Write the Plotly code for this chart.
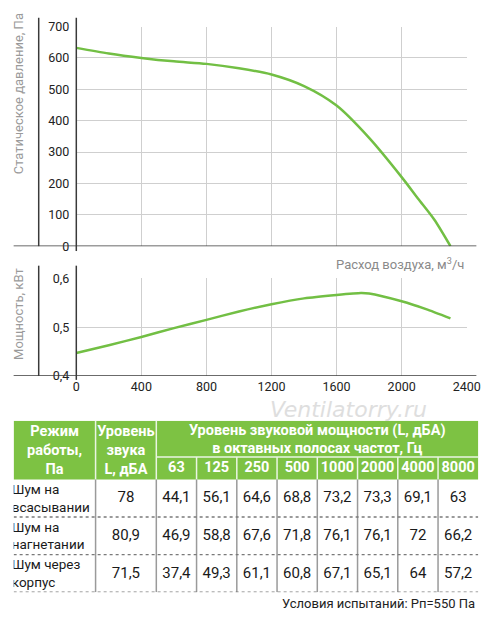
import numpy as np
import plotly.graph_objects as go

# ---------------- data ----------------
flow_p = [0, 200, 400, 600, 800, 1000, 1200, 1400, 1600, 1800, 2000, 2100, 2200, 2300]
pressure = [632, 614, 600, 589, 581, 567, 547, 510, 448, 345, 220, 152, 85, 0]

flow_n = [0, 200, 400, 600, 800, 1000, 1200, 1400, 1600, 1750, 1800, 2000, 2150, 2300]
power = [0.447, 0.463, 0.480, 0.498, 0.515, 0.532, 0.547, 0.559, 0.566, 0.570, 0.569, 0.553, 0.537, 0.518]

x_ticks = [0, 400, 800, 1200, 1600, 2000, 2400]
p_ticks = [0, 100, 200, 300, 400, 500, 600, 700]
n_ticks = [0.4, 0.5, 0.6]
n_tick_labels = ["0,4", "0,5", "0,6"]

modes = ["Шум на<br>всасывании", "Шум на<br>нагнетании", "Шум через<br>корпус"]
sound_level = [78, 80.9, 71.5]
freqs = [63, 125, 250, 500, 1000, 2000, 4000, 8000]
intake = [44.1, 56.1, 64.6, 68.8, 73.2, 73.3, 69.1, 63]
discharge = [46.9, 58.8, 67.6, 71.8, 76.1, 76.1, 72, 66.2]
casing = [37.4, 49.3, 61.1, 60.8, 67.1, 65.1, 64, 57.2]
octave_rows = [intake, discharge, casing]

hdr_mode = "Режим<br>работы,<br>Па"
hdr_level = "Уровень<br>звука<br>L, дБА"
hdr_octave = "Уровень звуковой мощности (L, дБА)<br>в октавных полосах частот, Гц"
footer = "Условия испытаний: Рп=550 Па"

# ---------------- style ----------------
W, H = 500, 626
GREEN_LINE = "#72bf44"
GREEN_HDR = "#7dc243"
GRID = "#cfcfcf"
AX = "#3a3a3a"
TICK_FONT = dict(family="Roboto, sans-serif", size=12.5, color="#222")
TXT_FONT = "Roboto, Noto Sans, sans-serif"

def px(xp):
    return xp / W

def py(yp):
    return 1 - yp / H

def fmt(v):
    return f"{v:g}".replace(".", ",")

fig = go.Figure()

fig.add_trace(go.Scatter(x=flow_p, y=pressure, mode="lines", line=dict(color=GREEN_LINE, width=2.5, shape="spline", smoothing=0.8),
                         xaxis="x", yaxis="y", hoverinfo="skip", showlegend=False))
fig.add_trace(go.Scatter(x=flow_n, y=power, mode="lines", line=dict(color=GREEN_LINE, width=2.5, shape="spline", smoothing=0.6),
                         xaxis="x2", yaxis="y2", hoverinfo="skip", showlegend=False))

# ---------------- table (own axis, column/row units) ----------------
col_w = [85, 63] + [41.75] * len(freqs)
edges = np.concatenate([[0], np.cumsum(col_w)])
centers = (edges[:-1] + edges[1:]) / 2
hdr_top_h, hdr_bot_h = 37, 23
hdr_h = hdr_top_h + hdr_bot_h
row_h = 38.5
row_edges = [hdr_h + i * row_h for i in range(len(modes) + 1)]
row_centers = [(row_edges[i] + row_edges[i + 1]) / 2 for i in range(len(modes))]
total_w = edges[-1]
total_h = row_edges[-1]

shapes = []
shapes.append(dict(type="rect", xref="x3", yref="y3", x0=0, x1=total_w, y0=0, y1=hdr_h,
                   fillcolor=GREEN_HDR, line=dict(width=0), layer="below"))
for e in edges[1:3]:
    shapes.append(dict(type="line", xref="x3", yref="y3", x0=e, x1=e, y0=0, y1=hdr_h, line=dict(color="#eaf5e2", width=1.5)))
shapes.append(dict(type="line", xref="x3", yref="y3", x0=edges[2], x1=total_w, y0=hdr_top_h, y1=hdr_top_h, line=dict(color="#eaf5e2", width=1.5)))
for e in edges[3:-1]:
    shapes.append(dict(type="line", xref="x3", yref="y3", x0=e, x1=e, y0=hdr_top_h, y1=hdr_h, line=dict(color="#eaf5e2", width=1.5)))
for e in edges[1:-1]:
    shapes.append(dict(type="line", xref="x3", yref="y3", x0=e, x1=e, y0=hdr_h, y1=total_h, line=dict(color="#9a9a9a", width=1.5)))
for r in row_edges[1:]:
    shapes.append(dict(type="line", xref="x3", yref="y3", x0=0, x1=total_w, y0=r, y1=r, line=dict(color="#7a7a7a", width=1.3, dash="dot")))

fig.add_trace(go.Scatter(
    x=[centers[0], centers[1], (edges[2] + total_w) / 2],
    y=[hdr_h / 2 + 1, hdr_h / 2 + 1, hdr_top_h / 2 + 1.5],
    text=[hdr_mode, hdr_level, hdr_octave], mode="text",
    textfont=dict(family=TXT_FONT, size=14.5, color="white", weight="bold"),
    xaxis="x3", yaxis="y3", hoverinfo="skip", showlegend=False))
fig.add_trace(go.Scatter(
    x=list(centers[2:]), y=[hdr_top_h + hdr_bot_h / 2 + 0.5] * len(freqs),
    text=[str(f) for f in freqs], mode="text",
    textfont=dict(family=TXT_FONT, size=14.5, color="white", weight="bold"),
    xaxis="x3", yaxis="y3", hoverinfo="skip", showlegend=False))
fig.add_trace(go.Scatter(
    x=[-2] * len(modes), y=[rc + 1.5 for rc in row_centers], text=modes, mode="text", textposition="middle right",
    textfont=dict(family=TXT_FONT, size=13.5, color="#1a1a1a"),
    xaxis="x3", yaxis="y3", hoverinfo="skip", showlegend=False))
bx, by, bt = [], [], []
for i, rc in enumerate(row_centers):
    bx.append(centers[1]); by.append(rc + 0.5); bt.append(fmt(sound_level[i]))
    for j, v in enumerate(octave_rows[i]):
        bx.append(centers[2 + j]); by.append(rc + 0.5); bt.append(fmt(v))
fig.add_trace(go.Scatter(
    x=bx, y=by, text=bt, mode="text",
    textfont=dict(family=TXT_FONT, size=15, color="#1a1a1a"),
    xaxis="x3", yaxis="y3", hoverinfo="skip", showlegend=False))

# ---------------- chart decorations ----------------
shapes.append(dict(type="line", xref="paper", yref="y", x0=px(10), x1=px(490), y0=0, y1=0, line=dict(color=AX, width=1.5)))
shapes.append(dict(type="line", xref="paper", yref="paper", x0=px(36), x1=px(36), y0=py(10), y1=py(244), line=dict(color=AX, width=1.5)))
shapes.append(dict(type="line", xref="paper", yref="paper", x0=px(75), x1=px(75), y0=py(10), y1=py(249), line=dict(color=AX, width=1.5)))
shapes.append(dict(type="line", xref="paper", yref="y2", x0=px(10), x1=px(490), y0=0.4, y1=0.4, line=dict(color=AX, width=1.5)))
shapes.append(dict(type="line", xref="paper", yref="paper", x0=px(36), x1=px(36), y0=py(264), y1=py(377), line=dict(color=AX, width=1.5)))
shapes.append(dict(type="line", xref="paper", yref="paper", x0=px(75), x1=px(75), y0=py(264), y1=py(381), line=dict(color=AX, width=1.5)))

annotations = [
    dict(text="Статическое давление, Па", x=px(15), y=py(88), xref="paper", yref="paper", textangle=-90,
         xanchor="center", yanchor="middle",
         showarrow=False, font=dict(family="Roboto, sans-serif", size=13, color="#9a9a9a")),
    dict(text="Мощность, кВт", x=px(15), y=py(313), xref="paper", yref="paper", textangle=-90,
         xanchor="center", yanchor="middle",
         showarrow=False, font=dict(family="Roboto, sans-serif", size=13, color="#9a9a9a")),
    dict(text="Расход воздуха, м<sup>3</sup>/ч", x=px(479), y=py(262), xref="paper", yref="paper",
         xanchor="right", yanchor="middle", showarrow=False,
         font=dict(family="Roboto, sans-serif", size=13, color="#8a8a8a")),
    dict(text="<i>Ventilatorry.ru</i>", x=px(357), y=py(411), xref="paper", yref="paper",
         xanchor="center", yanchor="middle",
         showarrow=False, font=dict(family="DejaVu Sans, sans-serif", size=22, color="#dedede")),
    dict(text=footer, x=px(491), y=py(610), xref="paper", yref="paper", xanchor="right", yanchor="middle",
         showarrow=False, font=dict(family=TXT_FONT, size=13, color="#222")),
]

fig.update_layout(
    autosize=True, margin=dict(l=0, r=0, t=0, b=0),
    paper_bgcolor="white", plot_bgcolor="white",
    showlegend=False,
    shapes=shapes, annotations=annotations,
    xaxis=dict(domain=[px(75), px(480)], range=[0, 2400], tickvals=x_ticks, showticklabels=False,
               showgrid=True, gridcolor=GRID, gridwidth=1, zeroline=False, showline=False, ticks="",
               anchor="y", fixedrange=True),
    yaxis=dict(domain=[py(244), py(19)], range=[0, 700], tickvals=p_ticks, showgrid=True, gridcolor=GRID,
               zeroline=False, showline=False, ticks="", tickfont=TICK_FONT, ticklabelstandoff=6,
               anchor="x", fixedrange=True),
    xaxis2=dict(domain=[px(75), px(480)], range=[0, 2400], tickvals=x_ticks, showgrid=True, gridcolor=GRID,
                zeroline=False, showline=False, ticks="", tickfont=TICK_FONT, ticklabelstandoff=2,
                anchor="y2", fixedrange=True),
    yaxis2=dict(domain=[py(377), py(277)], range=[0.4, 0.6], tickvals=n_ticks, ticktext=n_tick_labels,
                showgrid=True, gridcolor=GRID, zeroline=False, showline=False, ticks="", tickfont=TICK_FONT,
                ticklabelstandoff=6, anchor="x2", fixedrange=True),
    xaxis3=dict(domain=[px(10), px(10 + total_w)], range=[0, total_w], visible=False, anchor="y3", fixedrange=True),
    yaxis3=dict(domain=[py(423 + total_h), py(423)], range=[total_h, 0], visible=False, anchor="x3", fixedrange=True),
)

# make the figure fill the browser viewport exactly
post = (
    "var de=document.documentElement, b=document.body;"
    "de.style.margin='0';de.style.padding='0';de.style.overflow='hidden';"
    "b.style.margin='0';b.style.padding='0';b.style.overflow='hidden';"
    "var gd=document.getElementById('{plot_id}');"
    "gd.style.position='fixed';gd.style.left='0';gd.style.top='0';"
    "gd.style.width='100vw';gd.style.height='100vh';"
    "Plotly.Plots.resize(gd);"
)
fig.write_html("out.html", config={"displayModeBar": False, "responsive": True},
               default_width="100vw", default_height="100vh", post_script=post)
